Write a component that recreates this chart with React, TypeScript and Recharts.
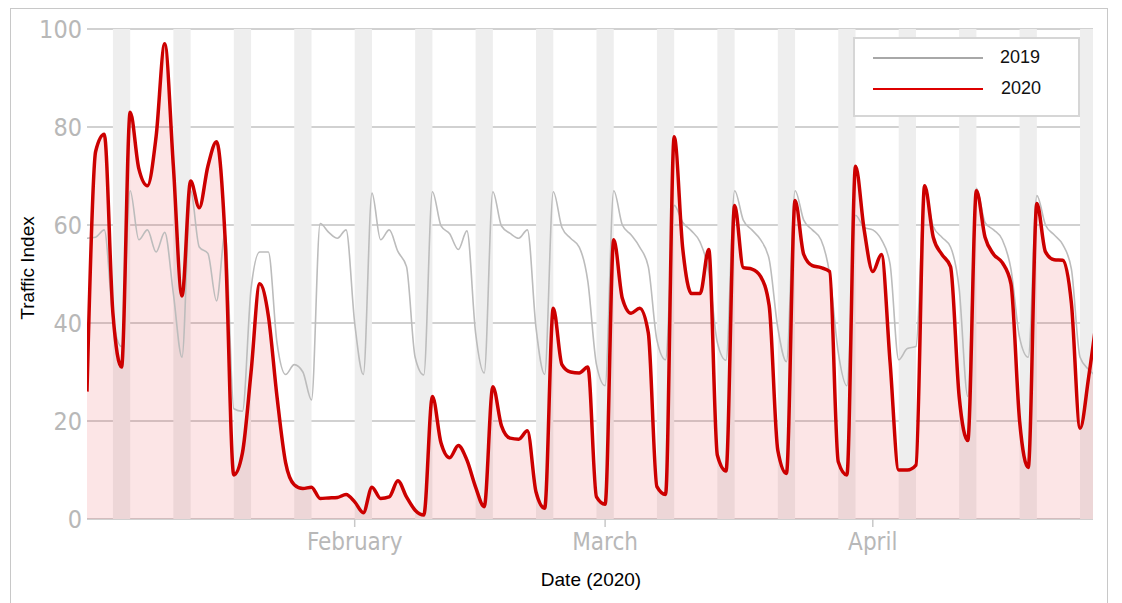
import React from 'react';
import { ComposedChart, Area, Line, XAxis, YAxis, CartesianGrid, ReferenceArea, Legend } from 'recharts';

// one value per day, index 0 = 1 Jan 2020
const traffic2020 = [
  26, 75, 78.5, 42, 31, 83, 71.5, 68, 78, 97,
  72, 45.5, 69, 63.5, 72, 77, 57, 9, 13.5, 30,
  48, 41.5, 25, 11.5, 7, 6.2, 6.5, 4.2, 4.3, 4.4,
  5, 3.5, 1.3, 6.5, 4.2, 4.5, 7.8, 4.5, 1.8, 0.8,
  25, 15.5, 12.5, 15, 12, 6.5, 2.5, 27, 19, 16.5,
  16.3, 18, 5.5, 2.2, 43, 31.5, 30, 29.8, 31, 4.5,
  3, 57, 45, 42, 43, 38, 6.6, 5, 78, 55,
  46, 46, 55, 13, 9.8, 64, 51.3, 51, 49.5, 43.5,
  14, 9.3, 65, 54, 51.7, 51.3, 50.5, 11.7, 9, 72,
  59, 50.5, 54, 32, 10, 10, 11, 68, 57.5, 54,
  51.5, 25, 16, 67, 57.5, 54, 52.3, 48, 20, 10.5,
  64.4, 54.5, 52.9, 52.8, 44, 18.5, 29, 42,
];

const traffic2019 = [
  57.3, 57.5, 59, 41, 35.2, 67, 57, 59, 54.5, 58.5,
  46, 33, 67, 55.5, 54.2, 44.5, 58.3, 22.5, 22, 47,
  54.5, 54.5, 36, 29.5, 31.5, 30, 24.3, 60.3, 58.5, 57.3,
  59, 40, 29.5, 66.5, 57, 59, 54.6, 51.5, 33, 29.4,
  66.8, 59.8, 58.2, 55, 58.8, 38, 29.8, 66.8, 59.8, 58.3,
  57.3, 59, 39, 29.5, 66.8, 59.5, 57.3, 55.5, 48.5, 31.5,
  27.2, 67, 60, 58, 55.5, 51.5, 36.5, 32.5, 64, 60.5,
  58.8, 56.5, 50.5, 36, 32.4, 67, 61, 59, 57, 53,
  39, 32.1, 67, 61, 59, 57, 50, 34, 27.2, 62,
  59.5, 59, 57, 52, 32.5, 34.8, 35.2, 67, 59.7, 57.5,
  55.5, 47, 25, 67.5, 60.5, 59, 57, 51, 37, 33,
  66, 60, 58, 56, 51, 33, 30.5, 29,
];

// saturdays (day index), shaded through sunday
const weekendStarts = [3, 10, 17, 24, 31, 38, 45, 52, 59, 66, 73, 80, 87, 94, 101, 108, 115];

const monthTicks = [31, 60, 91];
const monthLabels = ['February', 'March', 'April'];
const yTicks = [0, 20, 40, 60, 80, 100];

const X_MAX = 116.5;

const data = traffic2020.map((v, i) => ({ day: i, y2020: v, y2019: traffic2019[i] }));

const tickFont = "'Liberation Sans Narrow', 'DejaVu Sans Condensed', 'Arial Narrow', sans-serif";
const titleFont = "'Liberation Sans', Arial, sans-serif";

const renderLegend = () => (
  <div
    style={{
      width: 227,
      height: 80,
      boxSizing: 'border-box',
      border: '2px solid #d6d6d6',
      background: '#fff',
      position: 'relative',
      fontFamily: titleFont,
      fontSize: 18,
      color: '#111',
    }}
  >
    <div style={{ position: 'absolute', left: 18, top: 18, width: 110, height: 2, background: '#a8a8a8' }} />
    <div style={{ position: 'absolute', left: 145, top: 8 }}>2019</div>
    <div style={{ position: 'absolute', left: 18, top: 49, width: 110, height: 2, background: '#dd0000' }} />
    <div style={{ position: 'absolute', left: 146, top: 39 }}>2020</div>
  </div>
);

const App: React.FC = () => {
  return (
    <div style={{ position: 'relative', width: 1106, height: 595 }}>
      <div
        style={{
          position: 'absolute',
          left: 2,
          top: 0,
          width: 1096,
          height: 600,
          borderLeft: '1px solid #c8c8c8',
          borderTop: '1px solid #c8c8c8',
          borderRight: '1px solid #c8c8c8',
        }}
      />
      <ComposedChart
        width={1106}
        height={575}
        data={data}
        margin={{ top: 21, right: 21, bottom: 14, left: 0 }}
      >
        {weekendStarts.map((d) => (
          <ReferenceArea
            key={d}
            x1={d}
            x2={Math.min(d + 2, X_MAX)}
            fill="#eeeeee"
            fillOpacity={1}
            stroke="none"
          />
        ))}
        <CartesianGrid vertical={false} stroke="#c2c2c2" strokeWidth={1.6} />
        <XAxis
          dataKey="day"
          type="number"
          domain={[0, X_MAX]}
          allowDataOverflow
          ticks={monthTicks}
          tickFormatter={(v: number) => monthLabels[monthTicks.indexOf(v)]}
          axisLine={false}
          tickSize={8}
          tickLine={{ stroke: '#c8c8c8', strokeWidth: 1.5 }}
          tickMargin={6}
          height={50}
          tick={{ fill: '#b8b8b8', fontSize: 24, fontFamily: tickFont }}
        />
        <YAxis
          domain={[0, 100]}
          ticks={yTicks}
          width={79}
          axisLine={false}
          tickLine={false}
          tickSize={0}
          tickMargin={5}
          tick={{ fill: '#b8b8b8', fontSize: 25, fontFamily: tickFont }}
        />
        <Area
          dataKey="y2020"
          type="monotone"
          stroke="none"
          fill="#e8343c"
          fillOpacity={0.13}
          legendType="none"
          isAnimationActive={false}
        />
        <Line
          dataKey="y2019"
          name="2019"
          type="monotone"
          stroke="#bcbcbc"
          strokeWidth={1.6}
          dot={false}
          isAnimationActive={false}
        />
        <Line
          dataKey="y2020"
          name="2020"
          type="monotone"
          stroke="#cc0000"
          strokeWidth={3.5}
          dot={false}
          isAnimationActive={false}
        />
        <Legend
          content={renderLegend}
          layout="horizontal"
          verticalAlign="middle"
          align="center"
          wrapperStyle={{ top: 29, left: 845, width: 227, height: 80 }}
        />
      </ComposedChart>
      <div
        style={{
          position: 'absolute',
          left: 20,
          top: 260,
          transform: 'translate(-50%, -50%) rotate(-90deg)',
          whiteSpace: 'nowrap',
          fontFamily: titleFont,
          fontSize: 19,
          color: '#000',
        }}
      >
        Traffic Index
      </div>
      <div
        style={{
          position: 'absolute',
          left: 583,
          top: 572,
          transform: 'translate(-50%, -50%)',
          whiteSpace: 'nowrap',
          fontFamily: titleFont,
          fontSize: 19,
          color: '#000',
        }}
      >
        Date (2020)
      </div>
    </div>
  );
};

export default App;
